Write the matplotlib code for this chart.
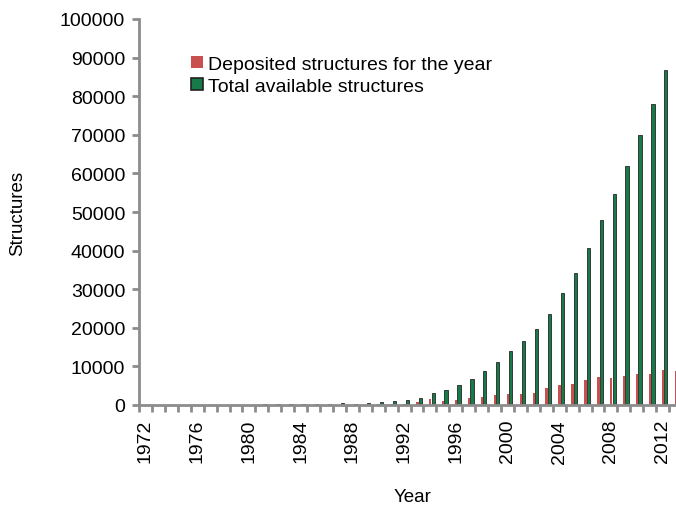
import numpy as np
import matplotlib.pyplot as plt
from matplotlib.patches import Patch

plt.rcParams['font.family'] = ['Liberation Sans', 'DejaVu Sans']

YEARS = list(range(1972, 2014))
# yearly depositions (red) and cumulative holdings (green)
DEPOSITED = [5, 3, 5, 6, 8, 20, 20, 18, 20, 30, 35, 35, 40, 45, 40, 60, 80, 110, 150, 200, 250,
             700, 1500, 1000, 1300, 1700, 2200, 2500, 2800, 2900, 3200, 4300, 5300, 5500,
             6600, 7300, 7100, 7500, 8000, 8100, 9000, 8800]
TOTAL = [7, 9, 14, 20, 28, 48, 68, 86, 106, 136, 171, 206, 246, 291, 331, 391, 300, 500, 800,
         1000, 1200, 1800, 3100, 4000, 5300, 6700, 8900, 11200, 13900, 16600, 19600, 23700,
         28900, 34300, 40600, 47800, 54700, 62000, 69900, 78000, 86800, 95500]
SERIES = ['Deposited structures for the year', 'Total available structures']
RED = '#c8504f'
GREEN = '#167a49'
GREY = '#8c8c8c'

fig = plt.figure(figsize=(6.76, 5.10), dpi=100)
ax = fig.add_axes([139 / 676, 104 / 510, 543 / 676, 386 / 510])

x = np.arange(len(YEARS))
ax.bar(x + 0.03, DEPOSITED, width=0.18, color=RED, linewidth=0)
ax.bar(x + 0.25, TOTAL, width=0.25, color=GREEN, edgecolor='#262626', linewidth=0.6)

ax.set_xlim(-0.5, len(YEARS) - 0.5)
ax.set_ylim(0, 100000)
ax.set_yticks(np.arange(0, 100001, 10000))

ax.set_xticks(x[::4])
ax.set_xticklabels([str(y) for y in YEARS[::4]], rotation=90)
ax.set_xticks(np.arange(-0.5, len(YEARS), 1), minor=True)
ax.tick_params(axis='x', which='major', length=0, pad=10, labelsize=14)
ax.tick_params(axis='x', which='minor', length=5, width=2, color=GREY)
ax.tick_params(axis='y', length=5, width=2, color=GREY, labelsize=14, pad=5)

for side in ['top', 'right']:
    ax.spines[side].set_visible(False)
for side in ['left', 'bottom']:
    ax.spines[side].set_color(GREY)
    ax.spines[side].set_linewidth(2)

handles = [Patch(facecolor=RED, edgecolor='none'),
           Patch(facecolor=GREEN, edgecolor='#222222', linewidth=1.2)]
ax.legend(handles, SERIES, loc='upper left', bbox_to_anchor=(0.096, 0.905), frameon=False,
          fontsize=14, handlelength=0.62, handleheight=0.62, handletextpad=0.26,
          labelspacing=0.25, borderaxespad=0, borderpad=0)

fig.text(18 / 676, 1 - 213 / 510, 'Structures', rotation=90, ha='center', va='center', fontsize=13.5)
fig.text(413 / 676, 1 - 498 / 510, 'Year', ha='center', va='center', fontsize=13.5)

fig.savefig('out.png', dpi=100)
